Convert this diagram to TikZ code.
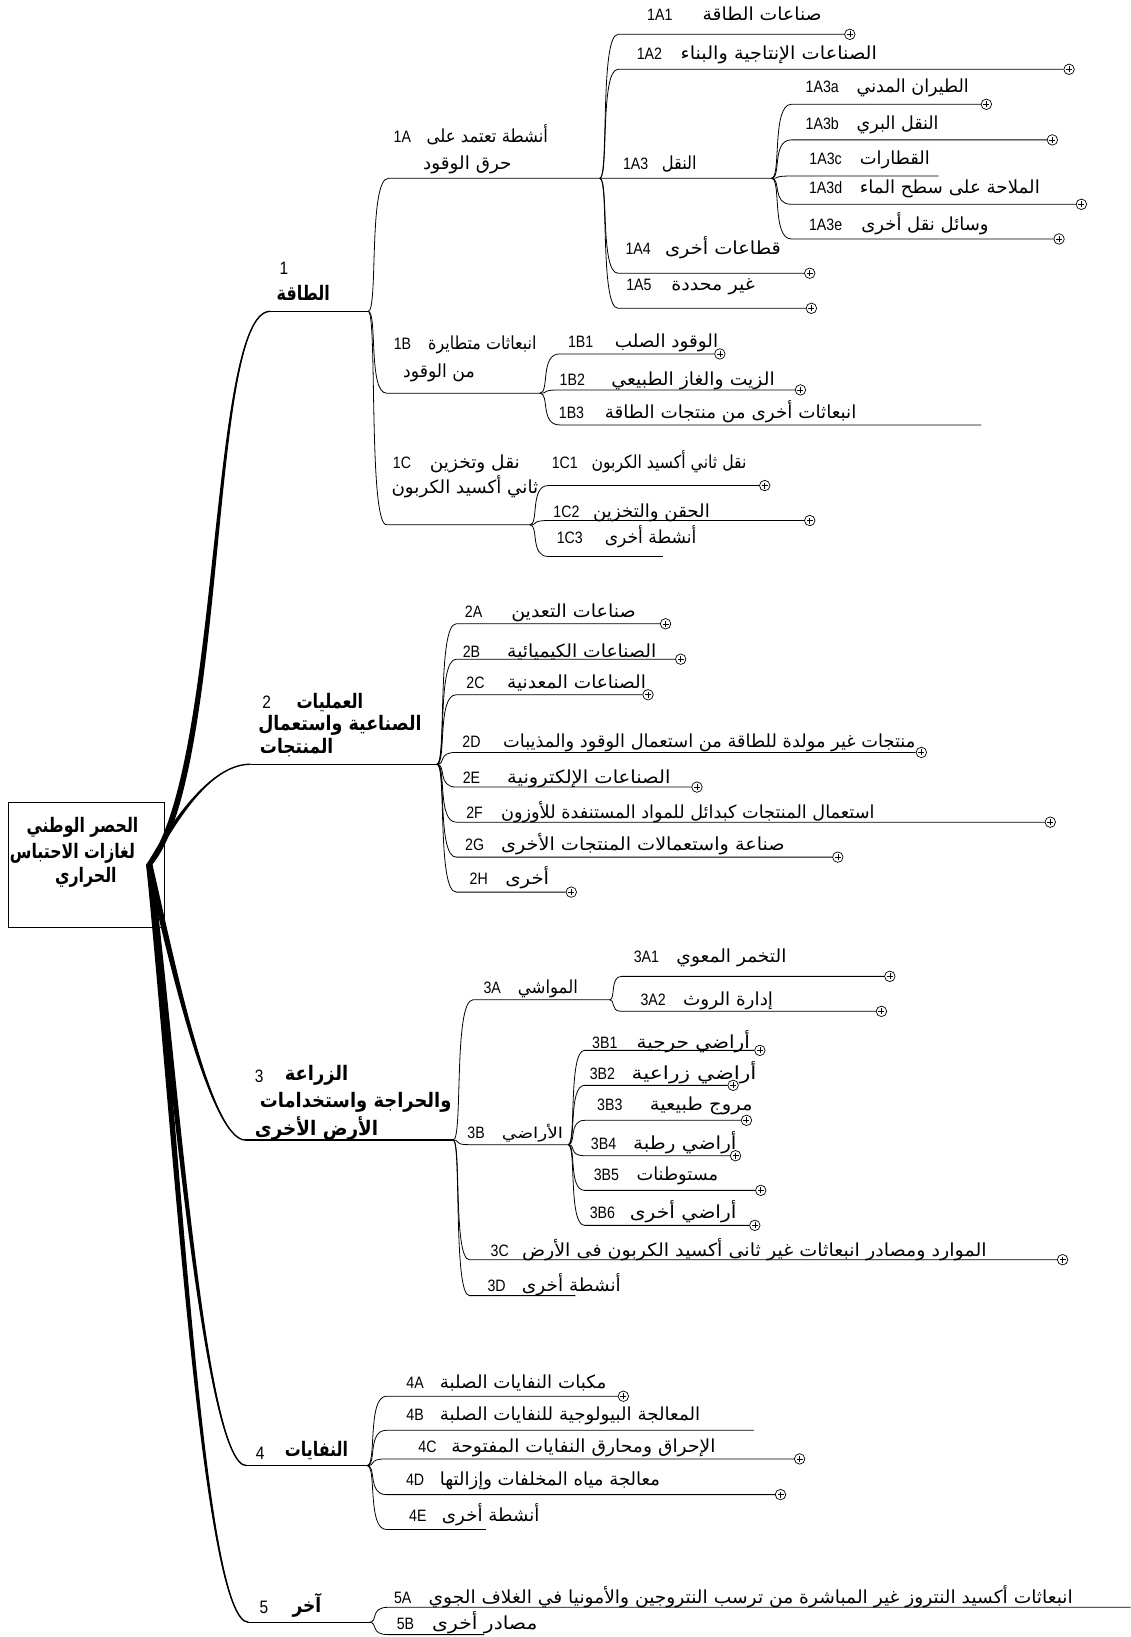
\documentclass[tikz,border=0pt]{standalone}
\usepackage{fontspec}
\usepackage{graphicx}
\usetikzlibrary{calc}
\TeXXeTstate=1
\newfontfamily\arfont[Script=Arabic]{DejaVu Sans}
\newfontfamily\codefont[FakeStretch=0.86]{Liberation Sans}
\newsavebox\arbox
% #1 target width (picture units), #2 text (already inside \beginR...\endR)
\newcommand\AR[2]{\sbox\arbox{#2}\pgfmathsetmacro\arr{#1*1.0443/\the\wd\arbox}\scalebox{\arr}[1]{\usebox\arbox}}
\tikzset{
 conn/.style={line width=0.8pt},
 mainln/.style={line width=1.4pt},
 txtlab/.style={inner sep=0pt, outer sep=0pt, anchor=base, font=\arfont\fontsize{18}{20}\selectfont},
 txtsmall/.style={txtlab, font=\arfont\fontsize{15}{17}\selectfont},
 codelab/.style={inner sep=0pt, outer sep=0pt, anchor=base, font=\codefont\fontsize{16.5}{18}\selectfont},
 headlab/.style={inner sep=0pt, outer sep=0pt, anchor=center, font=\arfont\bfseries\fontsize{20}{22}\selectfont},
 headnum/.style={inner sep=0pt, outer sep=0pt, anchor=center, font=\codefont\fontsize{18}{20}\selectfont},
 rootbox/.style={draw, line width=0.8pt, inner sep=0pt, minimum width=156.1pt, minimum height=124.9pt},
 expnd/.style={circle, draw, line width=0.7pt, minimum size=10.5pt, inner sep=0pt, fill=white,
   path picture={\draw[line width=0.6pt] ([xshift=-3pt]path picture bounding box.center) -- ([xshift=3pt]path picture bounding box.center) ([yshift=-3pt]path picture bounding box.center) -- ([yshift=3pt]path picture bounding box.center);}}
}
% child with expand mark: name, parent, x start, y, x of mark centre
\newcommand\leafp[5]{\coordinate (#1-s) at (#3,#4);
 \node[expnd] (#1-p) at (#5,#4) {};
 \draw[conn] (#2) .. controls ($(#2)!0.5!(#1-s |- #2)$) and (#2 |- #1-s) .. (#1-s) -- (#1-p.west);}
% child without mark: name, parent, x start, y, x end
\newcommand\leafn[5]{\coordinate (#1-s) at (#3,#4);
 \coordinate (#1-e) at (#5,#4);
 \draw[conn] (#2) .. controls ($(#2)!0.5!(#1-s |- #2)$) and (#2 |- #1-s) .. (#1-s) -- (#1-e);}
% label: name, code, code x, baseline, text x, text width, text
\newcommand\tlab[7]{\node[codelab] (#1-c) at (#3,#4) {#2};
 \node[txtlab] (#1-t) at (#5,#4) {\AR{#6}{#7}};}
% main tapered branch: end, c1x, c1y, c2x, c2y, half width
\newcommand\mainbr[6]{\fill (hub) ++(-#6,0) .. controls (#2-#6,#3) and (#4-#6/3,#5) .. (#1) .. controls (#4+#6/3,#5) and (#2+#6,#3) .. ($(hub)+(#6,0)$) -- cycle;
 \draw[mainln] (hub) .. controls (#2,#3) and (#4,#5) .. (#1);}
\begin{document}
\begin{tikzpicture}[x=1.0443pt,y=-1.0443pt]
\useasboundingbox (0,0) rectangle (1083,1568);
% root
\node[rootbox] (root) at (82.75,828.8) {};
\coordinate (hub) at (143,828);
\node[headlab] (root-t1) at (79,792.4) {\AR{107}{\beginR الحصر الوطني\endR}};
\node[headlab] (root-t2) at (69.4,817.2) {\AR{119.7}{\beginR لغازات الاحتباس\endR}};
\node[headlab] (root-t3) at (82.2,840.8) {\AR{59}{\beginR الحراري\endR}};
% main branch end points and forks
\coordinate (b1) at (258.5,298.2); \coordinate (f1) at (352.7,298.2);
\coordinate (b2) at (240,732);     \coordinate (f2) at (418.5,732);
\coordinate (b3) at (235,1092);    \coordinate (f3) at (434.1,1092);
\coordinate (b4) at (236,1403.8);  \coordinate (f4) at (351.7,1403.8);
\coordinate (b5) at (238,1553.9);  \coordinate (f5) at (353.6,1553.9);
\mainbr{b1}{215}{740}{200}{300}{3}
\mainbr{b2}{165}{790}{200}{732}{2.5}
\mainbr{b3}{160}{900}{200}{1092}{3}
\mainbr{b4}{165}{1000}{195}{1403.8}{3}
\mainbr{b5}{170}{1100}{195}{1553.9}{3}
\draw[mainln] (b1) -- (f1);
\draw[mainln] (b2) -- (f2);
\draw[mainln] (b3) -- (f3);
\draw[mainln] (b4) -- (f4);
\draw[mainln] (b5) -- (f5);
% main headings
\node[headnum] (h1-n) at (272,257.3) {1};
\node[headlab] (h1-t) at (290.5,281) {\AR{51}{\beginR الطاقة\endR}};
\node[headnum] (h2-n) at (255.4,672.7) {2};
\node[headlab] (h2-t1) at (316,672.7) {\AR{63.8}{\beginR العمليات\endR}};
\node[headlab] (h2-t2) at (325.6,695) {\AR{156.4}{\beginR الصناعية واستعمال\endR}};
\node[headlab] (h2-t3) at (284.1,716.5) {\AR{70.2}{\beginR المنتجات\endR}};
\node[headnum] (h3-n) at (248.2,1031.3) {3};
\node[headlab] (h3-t1) at (303.2,1030.3) {\AR{60.7}{\beginR الزراعة\endR}};
\node[headlab] (h3-t2) at (340.7,1056) {\AR{183.5}{\beginR والحراجة واستخدامات\endR}};
\node[headlab] (h3-t3) at (303.2,1081) {\AR{118.1}{\beginR الأرض الأخرى\endR}};
\node[headnum] (h4-n) at (249.1,1391.6) {4};
\node[headlab] (h4-t) at (303.2,1389) {\AR{60.5}{\beginR النفايات\endR}};
\node[headnum] (h5-n) at (252.9,1540) {5};
\node[headlab] (h5-t) at (294,1538) {\AR{27.5}{\beginR آخر\endR}};
% ---------- branch 1
\leafn{1A}{f1}{372}{170.8}{574.5}
\leafn{1B}{f1}{370.3}{376.6}{517.1}
\leafn{1C}{f1}{370.3}{502.7}{507.5}
\leafp{1A1}{1A-e}{592}{32.9}{814}
\leafp{1A2}{1A-e}{592}{66.4}{1024}
\leafn{1A3}{1A-e}{592}{170.8}{739}
\leafp{1A4}{1A-e}{592}{261.7}{775.6}
\leafp{1A5}{1A-e}{592}{295.3}{777.2}
\leafp{1A3a}{1A3-e}{758}{99.9}{944.8}
\leafp{1A3b}{1A3-e}{758}{134}{1008}
\leafn{1A3c}{1A3-e}{758}{168.6}{899}
\leafp{1A3d}{1A3-e}{758}{195.7}{1035.8}
\leafp{1A3e}{1A3-e}{758}{228.9}{1014.4}
\leafp{1B1}{1B-e}{536}{339}{689.5}
\leafp{1B2}{1B-e}{536}{373.5}{766.7}
\leafn{1B3}{1B-e}{536}{407}{940}
\leafp{1C1}{1C-e}{525}{465.1}{732.5}
\leafp{1C2}{1C-e}{525}{498.6}{775.6}
\leafn{1C3}{1C-e}{525}{533}{635}
\tlab{1A}{1A}{385.4}{136.4}{466.8}{116.4}{\beginR أنشطة تعتمد على\endR}
\node[txtlab] (1A-t2) at (447.7,162) {\AR{84.6}{\beginR حرق الوقود\endR}};
\tlab{1B}{1B}{385.5}{334.3}{462}{103.7}{\beginR انبعاثات متطايرة\endR}
\node[txtlab] (1B-t2) at (420.5,361.4) {\AR{68.7}{\beginR من الوقود\endR}};
\tlab{1C}{1C}{385}{449.2}{454.8}{86.2}{\beginR نقل وتخزين\endR}
\node[txtlab] (1C-t2) at (445.3,473) {\AR{140.5}{\beginR ثاني أكسيد الكربون\endR}};
\tlab{1A1}{1A1}{632}{20}{730}{114}{\beginR صناعات الطاقة\endR}
\tlab{1A2}{1A2}{622}{56.6}{746}{188}{\beginR الصناعات الإنتاجية والبناء\endR}
\tlab{1A3}{1A3}{608.9}{162}{650.6}{33.5}{\beginR النقل\endR}
\tlab{1A4}{1A4}{611.3}{243.3}{692.5}{111}{\beginR قطاعات أخرى\endR}
\tlab{1A5}{1A5}{612}{278.4}{683}{80}{\beginR غير محددة\endR}
\tlab{1A3a}{1A3a}{787.6}{88.5}{874.3}{107.4}{\beginR الطيران المدني\endR}
\tlab{1A3b}{1A3b}{787.6}{123.6}{859.8}{78.4}{\beginR النقل البري\endR}
\tlab{1A3c}{1A3c}{790.8}{157.1}{857.1}{67}{\beginR القطارات\endR}
\tlab{1A3d}{1A3d}{790.8}{185.8}{909.8}{172.4}{\beginR الملاحة على سطح الماء\endR}
\tlab{1A3e}{1A3e}{790.8}{221}{886}{122}{\beginR وسائل نقل أخرى\endR}
\tlab{1B1}{1B1}{556.2}{332.7}{638.4}{98.9}{\beginR الوقود الصلب\endR}
\tlab{1B2}{1B2}{548.2}{369.4}{663.9}{156.4}{\beginR الزيت والغاز الطبيعي\endR}
\tlab{1B3}{1B3}{547.4}{401.3}{699.8}{241}{\beginR انبعاثات أخرى من منتجات الطاقة\endR}
\tlab{1C1}{1C1}{541}{449.2}{640.8}{148.4}{\beginR نقل ثاني أكسيد الكربون\endR}
\tlab{1C2}{1C2}{542.6}{495.4}{624}{111.8}{\beginR الحقن والتخزين\endR}
\tlab{1C3}{1C3}{545.8}{521}{623.2}{87.8}{\beginR أنشطة أخرى\endR}
% ---------- branch 2
\leafp{2A}{f2}{437}{597.5}{637.5}
\leafp{2B}{f2}{437}{631.4}{652}
\leafp{2C}{f2}{437}{665.5}{620.7}
\leafp{2D}{f2}{437}{720.7}{882.5}
\leafp{2E}{f2}{437}{753.9}{667.6}
\leafp{2F}{f2}{437}{787.5}{1006}
\leafp{2G}{f2}{437}{821}{802.5}
\leafp{2H}{f2}{437}{854.5}{547.2}
\tlab{2A}{2A}{453.6}{591.2}{549.3}{119.2}{\beginR صناعات التعدين\endR}
\tlab{2B}{2B}{451.6}{629.5}{557.2}{142.7}{\beginR الصناعات الكيميائية\endR}
\tlab{2C}{2C}{455.5}{659.8}{552.3}{132.9}{\beginR الصناعات المعدنية\endR}
\tlab{2D}{2D}{451.6}{715.7}{679.3}{394.8}{\beginR منتجات غير مولدة للطاقة من استعمال الوقود والمذيبات\endR}
\tlab{2E}{2E}{451.6}{750.8}{564}{156.4}{\beginR الصناعات الإلكترونية\endR}
\tlab{2F}{2F}{454.6}{783.7}{658.8}{357.6}{\beginR استعمال المنتجات كبدائل للمواد المستنفدة للأوزون\endR}
\tlab{2G}{2G}{454.6}{814.7}{615.8}{271.6}{\beginR صناعة واستعمالات المنتجات الأخرى\endR}
\tlab{2H}{2H}{458.5}{847.5}{505}{42.1}{\beginR أخرى\endR}
% ---------- branch 3
\leafn{3A}{f3}{453.2}{957.6}{584.1}
\leafn{3B}{f3}{448.5}{1096.4}{544.2}
\leafp{3C}{f3}{449.6}{1206.6}{1017.8}
\leafn{3D}{f3}{449.6}{1241}{551}
\leafp{3A1}{3A-e}{595.3}{935.2}{852.3}
\leafp{3A2}{3A-e}{595.3}{968.7}{844.3}
\leafp{3B1}{3B-e}{560}{1006.1}{727.8}
\leafp{3B2}{3B-e}{560}{1039.6}{702.2}
\leafp{3B3}{3B-e}{560}{1073.1}{715}
\leafp{3B4}{3B-e}{560}{1107}{704.5}
\leafp{3B5}{3B-e}{560}{1140.2}{728.7}
\leafp{3B6}{3B-e}{560}{1173.7}{723}
\tlab{3A}{3A}{471.5}{951.9}{524.8}{57.6}{\beginR المواشي\endR}
\node[codelab] (3B-c) at (456,1090.7) {3B};
\node[txtsmall] (3B-t) at (510,1090.7) {\AR{58.8}{\beginR الأراضي\endR}};
\tlab{3C}{3C}{478.7}{1203.1}{722.6}{445.2}{\beginR الموارد ومصادر انبعاثات غير ثانى أكسيد الكربون فى الأرض\endR}
\tlab{3D}{3D}{475.7}{1237}{547.3}{94.7}{\beginR أنشطة أخرى\endR}
\tlab{3A1}{3A1}{619.2}{921.6}{700.6}{105.3}{\beginR التخمر المعوي\endR}
\tlab{3A2}{3A2}{625.6}{963.1}{697.4}{86.2}{\beginR إدارة الروث\endR}
\tlab{3B1}{3B1}{579.3}{1003.9}{664}{108.5}{\beginR أراضي حرجية\endR}
\tlab{3B2}{3B2}{577}{1034}{664.8}{119.7}{\beginR أراضي زراعية\endR}
\tlab{3B3}{3B3}{584.1}{1063.6}{671.6}{98.4}{\beginR مروج طبيعية\endR}
\tlab{3B4}{3B4}{578.1}{1101}{656}{99}{\beginR أراضي رطبة\endR}
\tlab{3B5}{3B5}{580.9}{1130.7}{648.8}{78.2}{\beginR مستوطنات\endR}
\tlab{3B6}{3B6}{577}{1167.4}{654.4}{102.1}{\beginR أراضي أخرى\endR}
% ---------- branch 4
\leafp{4A}{f4}{370.1}{1337.4}{597.1}
\leafn{4B}{f4}{370.1}{1370}{722}
\leafp{4C}{f4}{370.1}{1397.4}{765.9}
\leafp{4D}{f4}{370.1}{1431.6}{747.6}
\leafn{4E}{f4}{370.1}{1465}{465.4}
\tlab{4A}{4A}{397.6}{1330.2}{501}{159.5}{\beginR مكبات النفايات الصلبة\endR}
\tlab{4B}{4B}{397.6}{1360.5}{546}{249.3}{\beginR المعالجة البيولوجية للنفايات الصلبة\endR}
\tlab{4C}{4C}{409.5}{1391.4}{558.8}{253}{\beginR الإحراق ومحارق النفايات المفتوحة\endR}
\tlab{4D}{4D}{397.6}{1422.7}{526.7}{210.8}{\beginR معالجة مياه المخلفات وإزالتها\endR}
\tlab{4E}{4E}{400.3}{1457.8}{470}{93.4}{\beginR أنشطة أخرى\endR}
% ---------- branch 5
\leafn{5A}{f5}{372}{1539.5}{1083}
\leafn{5B}{f5}{372}{1565.7}{463.7}
\tlab{5A}{5A}{385.7}{1536}{719}{617}{\beginR انبعاثات أكسيد النتروز غير المباشرة من ترسب النتروجين والأمونيا في الغلاف الجوي\endR}
\tlab{5B}{5B}{388.4}{1560.6}{464.4}{100.8}{\beginR مصادر أخرى\endR}
\end{tikzpicture}
\end{document}
